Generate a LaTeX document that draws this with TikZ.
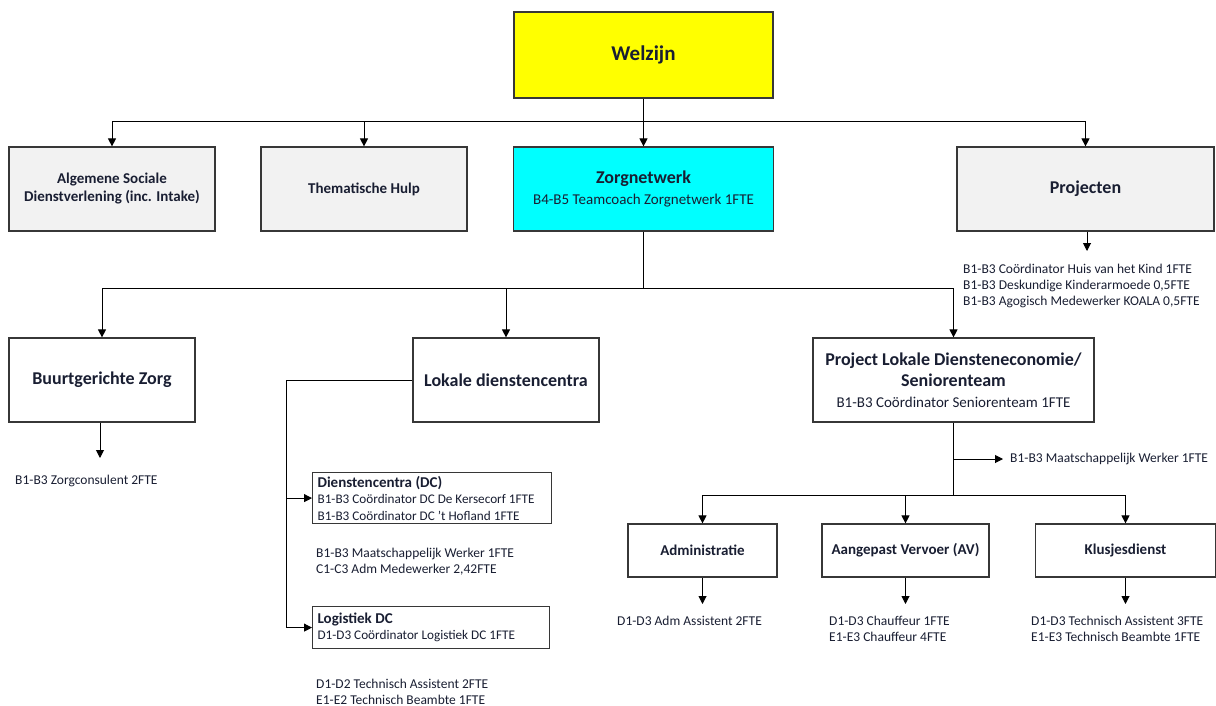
\documentclass[tikz,border=0pt]{standalone}
\usepackage{fontspec}
\setmainfont{Carlito}
\usetikzlibrary{arrows.meta}
\definecolor{txt}{RGB}{25,30,50}
\definecolor{edge}{RGB}{55,55,55}
\definecolor{grayfill}{RGB}{242,242,242}
\definecolor{yel}{RGB}{255,255,0}
\definecolor{cya}{RGB}{0,255,255}
\tikzset{
 box/.style={draw=edge, line width=1.2pt, fill=white, text=txt, align=center, inner sep=2pt},
 conn/.style={draw=black, line width=1pt, -{Triangle[length=8pt,width=8pt]}},
 plain/.style={draw=black, line width=1pt},
 info/.style={text=txt, font=\fontsize{13.5}{15.8}\selectfont, align=left, inner sep=0pt, anchor=north west},
 infobox/.style={draw=edge, line width=1.2pt, fill=white, text=txt, align=flush left, anchor=north west, inner xsep=5pt, inner ysep=3pt, font=\fontsize{13.2}{16.5}\selectfont},
 tb/.style={font=\fontsize{18}{21}\selectfont\bfseries},
 ts/.style={font=\fontsize{15}{18}\selectfont\bfseries},
}
\newcommand{\bigb}{\fontsize{18}{21}\selectfont\bfseries}
\newcommand{\subt}{\fontsize{15}{18}\selectfont\mdseries}
\begin{document}
\begin{tikzpicture}[x=1pt,y=-1pt]
\useasboundingbox (0,0) rectangle (1216,706);
% level 0
\node[box, fill=yel, minimum width=259pt, minimum height=86pt, font=\fontsize{21}{24}\selectfont\bfseries] (wel) at (643.5,55) {Welzijn};
% level 1
\node[box, fill=grayfill, minimum width=206pt, minimum height=84pt, ts] (asd) at (112,189) {Algemene Sociale\\Dienstverlening (inc. Intake)};
\node[box, fill=grayfill, minimum width=206pt, minimum height=84pt, ts] (them) at (364,189) {Thematische Hulp};
\node[box, fill=cya, minimum width=260pt, minimum height=84pt, font=\bigb] (zorg) at (643.5,189) {Zorgnetwerk\\\subt B4-B5 Teamcoach Zorgnetwerk 1FTE};
\node[box, fill=grayfill, minimum width=257pt, minimum height=84pt, tb] (proj) at (1085.5,189) {Projecten};
\coordinate (b1) at (643.5,122);
\draw[plain] (wel.south) -- (wel.south |- b1);
\draw[plain] (asd.north |- b1) -- (proj.north |- b1);
\foreach \n in {asd,them,zorg,proj} \draw[conn] (\n.north |- b1) -- (\n.north);
% projecten staff
\coordinate (pa) at (1087,251);
\draw[conn] (proj.south -| pa) -- (pa);
\node[info] (projt) at (963,264) {B1-B3 Coördinator Huis van het Kind 1FTE\\B1-B3 Deskundige Kinderarmoede 0,5FTE\\B1-B3 Agogisch Medewerker KOALA 0,5FTE};
% level 2
\node[box, minimum width=186pt, minimum height=84pt, tb] (buurt) at (102,380) {Buurtgerichte Zorg};
\node[box, minimum width=186pt, minimum height=84pt, tb] (lok) at (506,380) {Lokale dienstencentra};
\node[box, minimum width=281pt, minimum height=84pt, font=\bigb] (pld) at (953.5,380) {Project Lokale Diensteneconomie/\\Seniorenteam\\\subt B1-B3 Coördinator Seniorenteam 1FTE};
\coordinate (b2) at (643.5,288);
\draw[plain] (zorg.south) -- (zorg.south |- b2);
\draw[plain] (buurt.north |- b2) -- (pld.north |- b2);
\foreach \n in {buurt,lok,pld} \draw[conn] (\n.north |- b2) -- (\n.north);
% buurtgerichte zorg
\coordinate (ba) at (100,458);
\draw[conn] (buurt.south -| ba) -- (ba);
\node[info] (bzt) at (15,475) {B1-B3 Zorgconsulent 2FTE};
% lokale dienstencentra
\node[infobox, text width=229pt, minimum height=51pt] (dc) at (312,472) {{\fontsize{15}{16.5}\selectfont\bfseries Dienstencentra (DC)}\\B1-B3 Coördinator DC De Kersecorf 1FTE\\B1-B3 Coördinator DC ’t Hofland 1FTE};
\node[info] (dct) at (316,548) {B1-B3 Maatschappelijk Werker 1FTE\\C1-C3 Adm Medewerker 2,42FTE};
\node[infobox, text width=227pt, minimum height=42pt] (log) at (312,606) {{\fontsize{15}{16.5}\selectfont\bfseries Logistiek DC}\\D1-D3 Coördinator Logistiek DC 1FTE};
\node[info] (logt) at (316,679) {D1-D2 Technisch Assistent 2FTE\\E1-E2 Technisch Beambte 1FTE};
\coordinate (lv) at (286,380);
\draw[plain] (lok.west) -- (lv) -- (lv |- log.west);
\draw[conn] (lv |- dc.west) -- (dc.west);
\draw[conn] (lv |- log.west) -- (log.west);
% project lokale diensteneconomie
\coordinate (b3) at (953.5,495);
\coordinate (mw) at (1003,459);
\draw[plain] (pld.south) -- (pld.south |- b3);
\draw[conn] (b3 |- mw) -- (mw);
\node[info, anchor=west] (mwt) at (1010,459) {B1-B3 Maatschappelijk Werker 1FTE};
\node[box, minimum width=149pt, minimum height=53pt, ts] (adm) at (702.5,550.5) {Administratie};
\node[box, minimum width=167pt, minimum height=53pt, ts] (av) at (905.5,550.5) {Aangepast Vervoer (AV)};
\node[box, minimum width=180pt, minimum height=53pt, ts] (klus) at (1125.5,550.5) {Klusjesdienst};
\draw[plain] (adm.north |- b3) -- (klus.north |- b3);
\foreach \n in {adm,av,klus} \draw[conn] (\n.north |- b3) -- (\n.north);
\coordinate (aa) at (702.5,604);
\coordinate (va) at (905.5,604);
\coordinate (ka) at (1125.5,604);
\draw[conn] (adm.south) -- (aa);
\draw[conn] (av.south) -- (va);
\draw[conn] (klus.south) -- (ka);
\node[info] (admt) at (617,616) {D1-D3 Adm Assistent 2FTE};
\node[info] (avt) at (829,616) {D1-D3 Chauffeur 1FTE\\E1-E3 Chauffeur 4FTE};
\node[info] (klust) at (1031,616) {D1-D3 Technisch Assistent 3FTE\\E1-E3 Technisch Beambte 1FTE};
\end{tikzpicture}
\end{document}
